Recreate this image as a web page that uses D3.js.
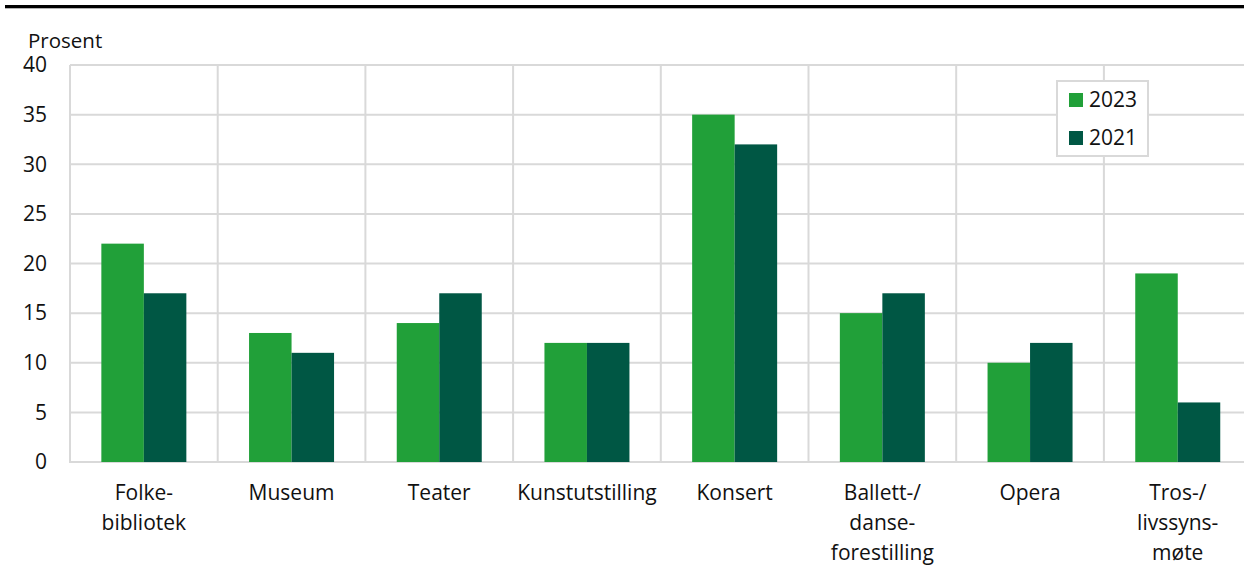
<!DOCTYPE html>
<html><head><meta charset="utf-8">
<script src="https://cdn.jsdelivr.net/npm/d3@7"></script>
<style>body{margin:0;background:#fff}svg{display:block;font-family:"Open Sans",sans-serif}</style>
</head><body><svg id="c" width="1244" height="570"></svg>
<script>
const categories = [["Folke-","bibliotek"],["Museum"],["Teater"],["Kunstutstilling"],["Konsert"],["Ballett-/","danse-","forestilling"],["Opera"],["Tros-/","livssyns-","møte"]];
const series2023 = [22,13,14,12,35,15,10,19];
const series2021 = [17,11,17,12,32,17,12,6];
const seriesNames = ["2023","2021"];
const colors = ["#21a039","#005744"];
const yTicks = [0,5,10,15,20,25,30,35,40];

(function(){
const svg = d3.select("#c");
const pLeft = 70, pBottom = 462, pTop = 65, bandW = 147.7;
const fs = 21;
const x = d3.scaleBand().domain(d3.range(categories.length)).range([pLeft, pLeft + bandW*categories.length]);
const y = d3.scaleLinear().domain([0,40]).range([pBottom, pTop]);
const inner = d3.scaleBand().domain([0,1]).range([0, 85]);
const grid = "#d9d9d9";

svg.append("rect").attr("x",5).attr("y",5).attr("width",1239).attr("height",3.3).attr("fill","#000");

svg.append("g").selectAll("line").data(yTicks).join("line")
  .attr("x1",pLeft).attr("x2",1244).attr("y1",d=>y(d)).attr("y2",d=>y(d))
  .attr("stroke",grid).attr("stroke-width",2);
svg.append("g").selectAll("line").data(d3.range(categories.length+1)).join("line")
  .attr("x1",d=>pLeft+bandW*d).attr("x2",d=>pLeft+bandW*d).attr("y1",pTop).attr("y2",pBottom+1)
  .attr("stroke",grid).attr("stroke-width",2);

svg.append("g").selectAll("text").data(yTicks).join("text")
  .attr("x",47).attr("y",d=>y(d)).attr("dy","0.35em").attr("text-anchor","end")
  .attr("font-size",fs).attr("fill","#111").text(d=>d);
svg.append("text").attr("x",28).attr("y",48).attr("font-size",fs-0.5).attr("fill","#111").text("Prosent");

const data = [series2023, series2021];
data.forEach((s,si)=>{
  svg.append("g").selectAll("rect").data(s).join("rect")
    .attr("x",(d,i)=>x(i)+(bandW-85)/2+inner(si))
    .attr("width",inner.bandwidth())
    .attr("y",d=>y(d)).attr("height",d=>pBottom-y(d))
    .attr("fill",colors[si]);
});

const cg = svg.append("g");
categories.forEach((lines,i)=>{
  const t = cg.append("text").attr("x",x(i)+bandW/2).attr("y",500).attr("text-anchor","middle")
    .attr("font-size",fs).attr("fill","#111");
  lines.forEach((l,j)=>t.append("tspan").attr("x",x(i)+bandW/2).attr("dy",j?30:0).text(l));
});

const lg = svg.append("g");
lg.append("rect").attr("x",1057).attr("y",81).attr("width",91).attr("height",75)
  .attr("fill","#fff").attr("stroke",grid).attr("stroke-width",2);
seriesNames.forEach((n,i)=>{
  lg.append("rect").attr("x",1069).attr("y",93+i*38).attr("width",14).attr("height",14).attr("fill",colors[i]);
  lg.append("text").attr("x",1089).attr("y",100+i*38).attr("dy","0.35em").attr("font-size",fs).attr("fill","#111").text(n);
});
})();
</script></body></html>
